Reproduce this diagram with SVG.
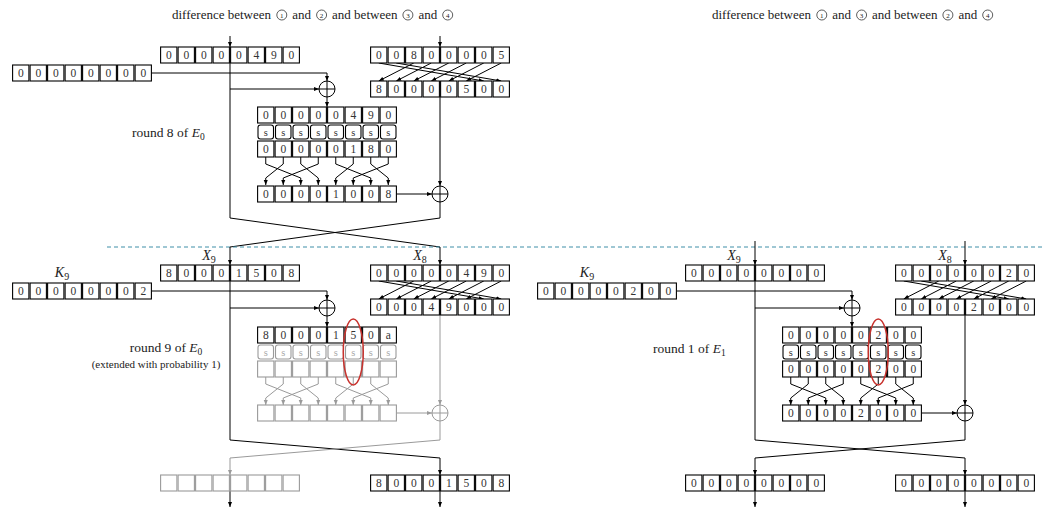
<svg xmlns="http://www.w3.org/2000/svg" xmlns:xlink="http://www.w3.org/1999/xlink" width="1043" height="509" viewBox="0 0 1043 509">
<style>
text{font-family:"Liberation Serif","DejaVu Serif",serif;}
.d{font-size:11.5px;text-anchor:middle;fill:#333}
.s{font-size:10.5px;text-anchor:middle;fill:#333}
.sg{font-size:10.5px;text-anchor:middle;fill:#aaa}
.hd{font-size:13px;fill:#222}
.lbl{font-size:13.5px;fill:#222}
.var{font-size:14px;fill:#222;text-anchor:middle}
.k{fill:#fff;stroke:#000;stroke-width:1.1}
.g{fill:#fff;stroke:#9a9a9a;stroke-width:1.1}
.ln{fill:none;stroke:#000;stroke-width:1}
.lg{fill:none;stroke:#9a9a9a;stroke-width:1}
.a{marker-end:url(#ak)}
.ag{marker-end:url(#ag)}
.cn{font-size:7px;text-anchor:middle;fill:#222}
.ci{fill:none;stroke:#333;stroke-width:0.8}
.red{fill:none;stroke:#c8322d;stroke-width:1.5}
</style>
<defs>
<marker id="ak" viewBox="0 0 10 10" refX="10" refY="5" markerWidth="5" markerHeight="5" markerUnits="userSpaceOnUse" orient="auto"><path d="M0 1L10 5L0 9z" fill="#000"/></marker>
<marker id="ag" viewBox="0 0 10 10" refX="10" refY="5" markerWidth="5" markerHeight="5" markerUnits="userSpaceOnUse" orient="auto"><path d="M0 1L10 5L0 9z" fill="#9a9a9a"/></marker>
<g id="row"><rect x="0.6" y="0" width="16.3" height="16"/><rect x="18.1" y="0" width="16.3" height="16"/><rect x="35.6" y="0" width="16.3" height="16"/><rect x="53.1" y="0" width="16.3" height="16"/><rect x="70.6" y="0" width="16.3" height="16"/><rect x="88.1" y="0" width="16.3" height="16"/><rect x="105.6" y="0" width="16.3" height="16"/><rect x="123.1" y="0" width="16.3" height="16"/></g>
<g id="srow"><rect x="1" y="0" width="15.5" height="14" rx="2.5"/><rect x="18.5" y="0" width="15.5" height="14" rx="2.5"/><rect x="36" y="0" width="15.5" height="14" rx="2.5"/><rect x="53.5" y="0" width="15.5" height="14" rx="2.5"/><rect x="71" y="0" width="15.5" height="14" rx="2.5"/><rect x="88.5" y="0" width="15.5" height="14" rx="2.5"/><rect x="106" y="0" width="15.5" height="14" rx="2.5"/><rect x="123.5" y="0" width="15.5" height="14" rx="2.5"/></g>
<g id="xor"><circle r="8"/><path d="M-8 0H8M0-8V8"/></g>
<g id="perm"><path d="M8.75 0V7L43.75 21V28"/><path d="M26.25 0V7L8.75 21V28"/><path d="M43.75 0V7L61.25 21V28"/><path d="M61.25 0V7L26.25 21V28"/><path d="M78.75 0V7L113.75 21V28"/><path d="M96.25 0V7L78.75 21V28"/><path d="M113.75 0V7L131.25 21V28"/><path d="M131.25 0V7L96.25 21V28"/></g>
<g id="shift"><path d="M43.75 0L8.75 18"/><path d="M61.25 0L26.25 18"/><path d="M78.75 0L43.75 18"/><path d="M96.25 0L61.25 18"/><path d="M113.75 0L78.75 18"/><path d="M131.25 0L96.25 18"/><path d="M8.75 0L113.75 18"/><path d="M26.25 0L131.25 18"/></g>
</defs>

<g id="connectors">
<path class="ln a" d="M230 36V47"/>
<path class="ln a" d="M440 36V47"/>
<path class="ln a" d="M151 73H327V81"/>
<path class="ln" d="M230 63V218"/>
<path class="ln a" d="M230 89H319"/>
<path class="ln a" d="M327 97V107"/>
<use href="#perm" class="ln a" transform="translate(257,157)"/>
<use href="#shift" class="ln a" transform="translate(370,63)"/>
<path class="ln a" d="M440 97V186"/>
<path class="ln a" d="M397 194H432"/>
<path class="ln" d="M440 202V218"/>
<path class="ln" d="M230 218L440 247M440 218L230 247"/>
<use href="#xor" class="ln" x="327" y="89"/>
<use href="#xor" class="ln" x="440" y="194"/>
<path d="M107 247H1043" fill="none" stroke="#3f8fa8" stroke-width="1" stroke-dasharray="4 3"/>

<path class="ln a" d="M230 247V265"/>
<path class="ln a" d="M440 247V265"/>
<path class="ln a" d="M151 291H327V300"/>
<path class="ln a" d="M230 281V440L440 458V475"/>
<path class="ln a" d="M230 308H319"/>
<path class="ln a" d="M327 316V327"/>
<use href="#shift" class="ln a" transform="translate(370,281)"/>
<path class="lg ag" d="M440 315V405"/>
<use href="#perm" class="lg ag" transform="translate(257,377)"/>
<path class="lg ag" d="M397 413H432"/>
<use href="#xor" class="lg" x="440" y="413"/>
<path class="lg ag" d="M440 421V440L230 458V475"/>
<path class="ln a" d="M230 491V507"/>
<path class="ln a" d="M440 491V507"/>
<use href="#xor" class="ln" x="327" y="308"/>

<path class="ln a" d="M755 241V265"/>
<path class="ln a" d="M965 241V265"/>
<path class="ln a" d="M677 291H852V300"/>
<path class="ln a" d="M755 281V440L965 458V475"/>
<path class="ln a" d="M755 308H844"/>
<path class="ln a" d="M852 316V327"/>
<use href="#shift" class="ln a" transform="translate(895,281)"/>
<path class="ln a" d="M965 315V405"/>
<use href="#perm" class="ln a" transform="translate(782,377)"/>
<path class="ln a" d="M922 413H957"/>
<path class="ln a" d="M965 421V440L755 458V475"/>
<path class="ln a" d="M755 491V507"/>
<path class="ln a" d="M965 491V507"/>
<use href="#xor" class="ln" x="852" y="308"/>
<use href="#xor" class="ln" x="965" y="413"/>
</g>

<g id="header-left">
<text class="hd" y="19"><tspan x="172">difference between</tspan><tspan x="292.3">and</tspan><tspan x="332.1">and between</tspan><tspan x="418.4">and</tspan></text>
<circle class="ci" cx="281.8" cy="15" r="5"/><text class="cn" x="281.8" y="17.5">1</text>
<circle class="ci" cx="321.6" cy="15" r="5"/><text class="cn" x="321.6" y="17.5">2</text>
<circle class="ci" cx="407.9" cy="15" r="5"/><text class="cn" x="407.9" y="17.5">3</text>
<circle class="ci" cx="447.7" cy="15" r="5"/><text class="cn" x="447.7" y="17.5">4</text>
</g>
<g id="header-right">
<text class="hd" y="19"><tspan x="712">difference between</tspan><tspan x="832.3">and</tspan><tspan x="872.1">and between</tspan><tspan x="958.4">and</tspan></text>
<circle class="ci" cx="821.8" cy="15" r="5"/><text class="cn" x="821.8" y="17.5">1</text>
<circle class="ci" cx="861.6" cy="15" r="5"/><text class="cn" x="861.6" y="17.5">3</text>
<circle class="ci" cx="947.9" cy="15" r="5"/><text class="cn" x="947.9" y="17.5">2</text>
<circle class="ci" cx="987.7" cy="15" r="5"/><text class="cn" x="987.7" y="17.5">4</text>
</g>

<g id="labels">
<text class="lbl" x="132" y="137">round 8 of <tspan font-style="italic">E</tspan><tspan font-size="9.5" dy="3">0</tspan></text>
<text class="lbl" x="166" y="352" text-anchor="middle">round 9 of <tspan font-style="italic">E</tspan><tspan font-size="9.5" dy="3">0</tspan></text>
<text x="156" y="368" font-size="11" fill="#222" text-anchor="middle">(extended with probability 1)</text>
<text class="lbl" x="653" y="353">round 1 of <tspan font-style="italic">E</tspan><tspan font-size="9.5" dy="3">1</tspan></text>
<text class="var" x="209" y="260"><tspan font-style="italic">X</tspan><tspan font-size="10" dy="3">9</tspan></text>
<text class="var" x="420" y="260"><tspan font-style="italic">X</tspan><tspan font-size="10" dy="3">8</tspan></text>
<text class="var" x="62" y="277"><tspan font-style="italic">K</tspan><tspan font-size="10" dy="3">9</tspan></text>
<text class="var" x="734" y="260"><tspan font-style="italic">X</tspan><tspan font-size="10" dy="3">9</tspan></text>
<text class="var" x="945" y="260"><tspan font-style="italic">X</tspan><tspan font-size="10" dy="3">8</tspan></text>
<text class="var" x="587" y="277"><tspan font-style="italic">K</tspan><tspan font-size="10" dy="3">9</tspan></text>
</g>

<g id="r8-x9" transform="translate(160,47)"><use href="#row" class="k"/><text class="d" x="8.75 26.25 43.75 61.25 78.75 96.25 113.75 131.25" y="12">00000490</text></g>
<g id="r8-k8" transform="translate(12,65)"><use href="#row" class="k"/><text class="d" x="8.75 26.25 43.75 61.25 78.75 96.25 113.75 131.25" y="12">00000000</text></g>
<g id="r8-x8" transform="translate(370,47)"><use href="#row" class="k"/><text class="d" x="8.75 26.25 43.75 61.25 78.75 96.25 113.75 131.25" y="12">00800005</text></g>
<g id="r8-x8rot" transform="translate(370,81)"><use href="#row" class="k"/><text class="d" x="8.75 26.25 43.75 61.25 78.75 96.25 113.75 131.25" y="12">80000500</text></g>
<g id="r8-sin" transform="translate(257,107)"><use href="#row" class="k"/><text class="d" x="8.75 26.25 43.75 61.25 78.75 96.25 113.75 131.25" y="12">00000490</text></g>
<g id="r8-sbox" transform="translate(257,125)"><use href="#srow" class="k"/><text class="s" x="8.75 26.25 43.75 61.25 78.75 96.25 113.75 131.25" y="10.5">ssssssss</text></g>
<g id="r8-sout" transform="translate(257,141)"><use href="#row" class="k"/><text class="d" x="8.75 26.25 43.75 61.25 78.75 96.25 113.75 131.25" y="12">00000180</text></g>
<g id="r8-pout" transform="translate(257,186)"><use href="#row" class="k"/><text class="d" x="8.75 26.25 43.75 61.25 78.75 96.25 113.75 131.25" y="12">00001008</text></g>

<g id="r9-x9" transform="translate(160,265)"><use href="#row" class="k"/><text class="d" x="8.75 26.25 43.75 61.25 78.75 96.25 113.75 131.25" y="12">80001508</text></g>
<g id="r9-k9" transform="translate(12,283)"><use href="#row" class="k"/><text class="d" x="8.75 26.25 43.75 61.25 78.75 96.25 113.75 131.25" y="12">00000002</text></g>
<g id="r9-x8" transform="translate(370,265)"><use href="#row" class="k"/><text class="d" x="8.75 26.25 43.75 61.25 78.75 96.25 113.75 131.25" y="12">00000490</text></g>
<g id="r9-x8rot" transform="translate(370,299)"><use href="#row" class="k"/><text class="d" x="8.75 26.25 43.75 61.25 78.75 96.25 113.75 131.25" y="12">00049000</text></g>
<g id="r9-sin" transform="translate(257,327)"><use href="#row" class="k"/><text class="d" x="8.75 26.25 43.75 61.25 78.75 96.25 113.75 131.25" y="12">8000150a</text></g>
<g id="r9-sbox" transform="translate(257,345)"><use href="#srow" class="g"/><text class="sg" x="8.75 26.25 43.75 61.25 78.75 96.25 113.75 131.25" y="10.5">ssssssss</text></g>
<g id="r9-sout" transform="translate(257,361)"><use href="#row" class="g"/></g>
<g id="r9-pout" transform="translate(257,405)"><use href="#row" class="g"/></g>
<g id="r9-outl" transform="translate(160,475)"><use href="#row" class="g"/></g>
<g id="r9-outr" transform="translate(370,475)"><use href="#row" class="k"/><text class="d" x="8.75 26.25 43.75 61.25 78.75 96.25 113.75 131.25" y="12">80001508</text></g>

<g id="r1-x9" transform="translate(685,265)"><use href="#row" class="k"/><text class="d" x="8.75 26.25 43.75 61.25 78.75 96.25 113.75 131.25" y="12">00000000</text></g>
<g id="r1-k9" transform="translate(537,283)"><use href="#row" class="k"/><text class="d" x="8.75 26.25 43.75 61.25 78.75 96.25 113.75 131.25" y="12">00000200</text></g>
<g id="r1-x8" transform="translate(895,265)"><use href="#row" class="k"/><text class="d" x="8.75 26.25 43.75 61.25 78.75 96.25 113.75 131.25" y="12">00000020</text></g>
<g id="r1-x8rot" transform="translate(895,299)"><use href="#row" class="k"/><text class="d" x="8.75 26.25 43.75 61.25 78.75 96.25 113.75 131.25" y="12">00002000</text></g>
<g id="r1-sin" transform="translate(782,327)"><use href="#row" class="k"/><text class="d" x="8.75 26.25 43.75 61.25 78.75 96.25 113.75 131.25" y="12">00000200</text></g>
<g id="r1-sbox" transform="translate(782,345)"><use href="#srow" class="k"/><text class="s" x="8.75 26.25 43.75 61.25 78.75 96.25 113.75 131.25" y="10.5">ssssssss</text></g>
<g id="r1-sout" transform="translate(782,361)"><use href="#row" class="k"/><text class="d" x="8.75 26.25 43.75 61.25 78.75 96.25 113.75 131.25" y="12">00000200</text></g>
<g id="r1-pout" transform="translate(782,405)"><use href="#row" class="k"/><text class="d" x="8.75 26.25 43.75 61.25 78.75 96.25 113.75 131.25" y="12">00002000</text></g>
<g id="r1-outl" transform="translate(685,475)"><use href="#row" class="k"/><text class="d" x="8.75 26.25 43.75 61.25 78.75 96.25 113.75 131.25" y="12">00000000</text></g>
<g id="r1-outr" transform="translate(895,475)"><use href="#row" class="k"/><text class="d" x="8.75 26.25 43.75 61.25 78.75 96.25 113.75 131.25" y="12">00000000</text></g>

<g id="highlights">
<ellipse class="red" cx="353.25" cy="352" rx="10" ry="33"/>
<ellipse class="red" cx="878.25" cy="352" rx="10" ry="33"/>
</g>
</svg>
